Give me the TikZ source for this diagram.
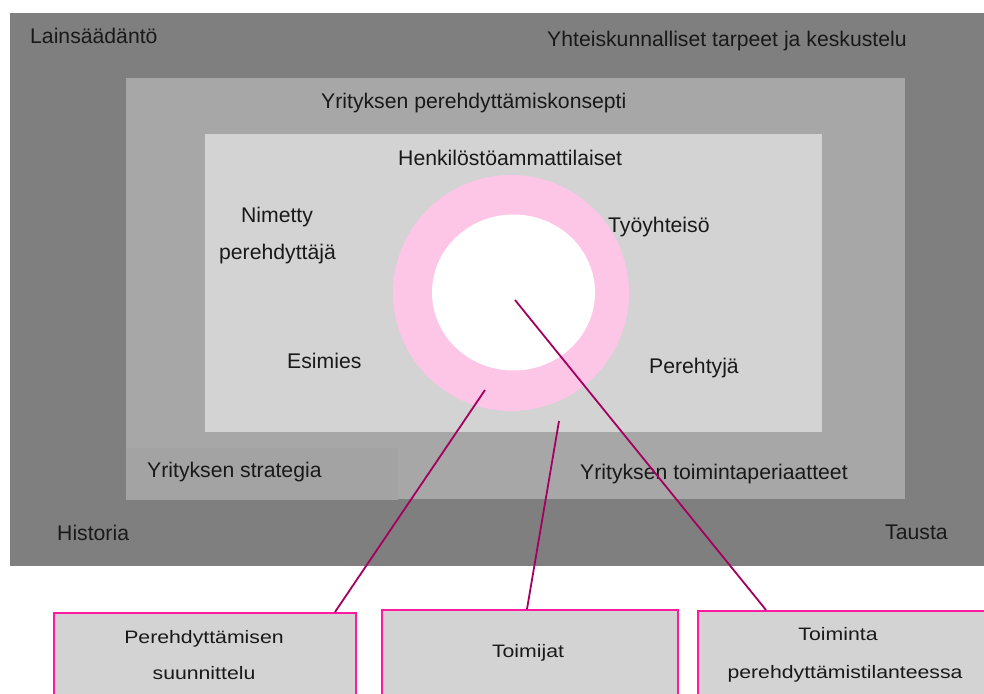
\documentclass[tikz,border=0pt]{standalone}
\usepackage{fontspec}
\setmainfont{Liberation Sans}
\begin{document}
\begin{tikzpicture}[x=1pt,y=-1pt,
  lbl/.style={inner sep=0pt, font=\fontsize{21.2}{25}\selectfont, text=black!90},
  boxlbl/.style={inner sep=0pt, font=\fontsize{18}{22}\selectfont, text=black!90},
  link/.style={draw=linkc, line width=1.8pt},
  topicbox/.style={draw=boxedge, line width=1.5pt, fill=innerg, minimum height=100pt, anchor=north west, inner sep=0pt}]
\definecolor{outerg}{HTML}{7F7F7F}
\definecolor{midg}{HTML}{A7A7A7}
\definecolor{stratg}{HTML}{A3A3A3}
\definecolor{innerg}{HTML}{D3D3D3}
\definecolor{ringc}{HTML}{FDC6E6}
\definecolor{linkc}{HTML}{A3005F}
\definecolor{boxedge}{HTML}{FF1AA0}
\clip (0,0) rectangle (984,693);
\fill[white] (0,0) rectangle (984,693);

% nested context layers
\fill[outerg] (10,13) rectangle (990,566);
\fill[midg] (126,78) rectangle (905,499);
\fill[stratg] (126,448) rectangle (398,500);
\fill[innerg] (205,134) rectangle (822,432);

% core rings
\fill[ringc] (511,293) circle (118);
\fill[white] (513.5,292.5) ellipse (81.5 and 78);

% layer labels
\node[lbl, anchor=base west] (lain) at (30,44) {Lainsäädäntö};
\node[lbl, anchor=base west] (yht) at (547,47) {Yhteiskunnalliset tarpeet ja keskustelu};
\node[lbl, anchor=base west] (konsepti) at (321,108) {Yrityksen perehdyttämiskonsepti};
\node[lbl, anchor=base west] (henk) at (398,165) {Henkilöstöammattilaiset};
\node[lbl, anchor=base] (nim) at (277,222) {Nimetty};
\node[lbl, anchor=base] (pereh) at (277.5,259) {perehdyttäjä};
\node[lbl, anchor=base west] (esim) at (287,368) {Esimies};
\node[lbl, anchor=base west] (tyo) at (608,232) {Työyhteisö};
\node[lbl, anchor=base west] (perehtyja) at (649,373) {Perehtyjä};
\node[lbl, anchor=base west] (strat) at (147,477) {Yrityksen strategia};
\node[lbl, anchor=base west] (toimp) at (580,479) {Yrityksen toimintaperiaatteet};
\node[lbl, anchor=base west] (hist) at (57,540) {Historia};
\node[lbl, anchor=base west] (taus) at (885,539) {Tausta};

% topic boxes
\node[topicbox, minimum width=302pt] (b1) at (53,612) {};
\node[topicbox, minimum width=296pt] (b2) at (381,609) {};
\node[topicbox, minimum width=300pt] (b3) at (697,610) {};
\node[boxlbl, anchor=base] (b1a) at (204,643) {\scalebox{1.18}[1]{Perehdyttämisen}};
\node[boxlbl, anchor=base] (b1b) at (204,679) {\scalebox{1.18}[1]{suunnittelu}};
\node[boxlbl, anchor=base] (b2a) at (528,657) {\scalebox{1.18}[1]{Toimijat}};
\node[boxlbl, anchor=base] (b3a) at (838,640) {\scalebox{1.18}[1]{Toiminta}};
\node[boxlbl, anchor=base] (b3b) at (845,678) {\scalebox{1.18}[1]{perehdyttämistilanteessa}};

% connector ends
\coordinate (r1) at (485,390);
\coordinate (r2) at (559,421);
\coordinate (r3) at (515,300);
\coordinate (t1) at (335,612);
\coordinate (t2) at (527,609);
\coordinate (t3) at (766,610);
\draw[link] (r1) -- (t1);
\draw[link] (r2) -- (t2);
\draw[link] (r3) -- (t3);
\end{tikzpicture}
\end{document}
